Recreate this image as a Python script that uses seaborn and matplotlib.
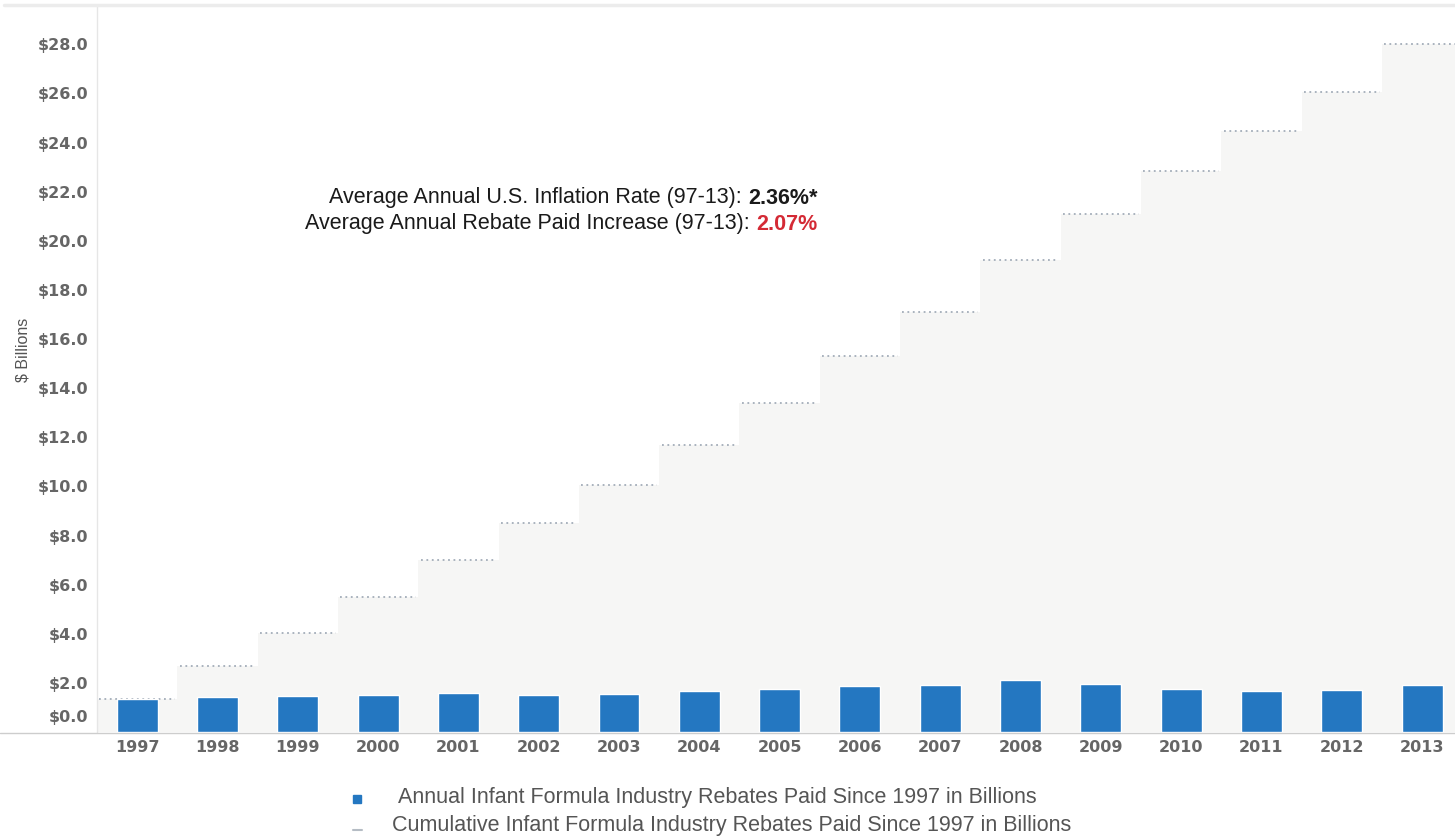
import numpy as np
import pandas as pd
import matplotlib.pyplot as plt
import seaborn as sns
from matplotlib.lines import Line2D
from matplotlib.patches import Rectangle

# data
years = [str(y) for y in range(1997, 2014)]
annual = [1.34, 1.42, 1.46, 1.50, 1.58, 1.50, 1.55, 1.65, 1.74, 1.86, 1.90, 2.10, 1.95, 1.74, 1.65, 1.70, 1.90]
cumulative = [1.34, 2.70, 4.05, 5.50, 7.00, 8.50, 10.05, 11.70, 13.40, 15.30, 17.10,
              19.20, 21.10, 22.85, 24.45, 26.05, 28.00]
y_ticks = list(range(0, 29, 2))
y_tick_labels = [f"${v:.1f}" for v in y_ticks]

annual_label = "Annual Infant Formula Industry Rebates Paid Since 1997 in Billions"
cumul_label = "Cumulative Infant Formula Industry Rebates Paid Since 1997 in Billions"

BAR_BLUE = "#2477c1"
FILL_GRAY = "#f6f6f5"
DOT_GRAY = "#a3adb9"
TICK_GRAY = "#666666"

W, H = 1455, 839


def fx(px):
    return px / W


def fy(py):
    return 1 - py / H


sns.set_theme(style="white")
plt.rcParams['font.family'] = ['Liberation Sans', 'DejaVu Sans']

df = pd.DataFrame({'year': years, 'annual': annual, 'cumulative': cumulative})

fig = plt.figure(figsize=(W / 100, H / 100), dpi=100)
ax = fig.add_axes([fx(97), fy(732), fx(W) - fx(97), fy(5) - fy(732)])

# cumulative steps: light fill with dotted top edges
pos = np.arange(len(years))
ax.stairs(df['cumulative'], edges=np.append(pos - 0.5, pos[-1] + 0.5),
          fill=True, color=FILL_GRAY, zorder=1)
ax.hlines(df['cumulative'], pos - 0.47, pos + 0.47, colors=DOT_GRAY,
          linestyles=(0, (1, 2)), linewidth=1.3, zorder=2)

# annual bars
sns.barplot(data=df, x='year', y='annual', color=BAR_BLUE, saturation=1,
            width=0.51, ax=ax, zorder=3)

ax.set_xlim(-0.5, 16.41)
ax.set_ylim(0, 29.6)
ax.set_yticks(y_ticks)
ax.set_yticklabels([""] + y_tick_labels[1:])
ax.set_xlabel("")
ax.set_ylabel("")
ax.tick_params(axis='both', length=0, labelcolor=TICK_GRAY)
ax.tick_params(axis='y', pad=6)
ax.tick_params(axis='x', pad=6)
for lab in ax.get_xticklabels() + ax.get_yticklabels():
    lab.set_fontfamily('DejaVu Sans')
    lab.set_fontweight('bold')
    lab.set_fontsize(11.5)

# the zero label sits above the base line, as in the reference
ax.annotate(y_tick_labels[0], xy=(0, 0), xycoords=('axes fraction', 'data'),
            xytext=(-6, 5), textcoords='offset points', ha='right', va='bottom',
            fontfamily='DejaVu Sans', fontweight='bold', fontsize=11.5, color=TICK_GRAY)

for s in ['top', 'right', 'bottom']:
    ax.spines[s].set_visible(False)
ax.spines['left'].set_color('#e6e6e6')
ax.spines['left'].set_linewidth(1.0)

# header line and base line across the figure
fig.add_artist(Line2D([0.003, 1], [fy(5), fy(5)], transform=fig.transFigure,
                      color='#ececec', linewidth=2.5))
fig.add_artist(Line2D([0, 1], [fy(733), fy(733)], transform=fig.transFigure,
                      color='#cdcdcd', linewidth=1.0))

fig.text(fx(23), fy(350), "$ Billions", rotation=90, ha='center', va='center',
         fontsize=11.5, color='#555555')

# annotation
fs = 15.5
fig.text(fx(748), fy(198), "Average Annual U.S. Inflation Rate (97-13): ", ha='right', va='center',
         fontsize=fs, color='#1a1a1a')
fig.text(fx(748), fy(198), "2.36%*", ha='left', va='center', fontsize=fs,
         fontweight='bold', color='#1a1a1a')
fig.text(fx(756), fy(224), "Average Annual Rebate Paid Increase (97-13): ", ha='right', va='center',
         fontsize=fs, color='#1a1a1a')
fig.text(fx(756), fy(224), "2.07%", ha='left', va='center', fontsize=fs,
         fontweight='bold', color='#d42a35')

# legend
fig.add_artist(Rectangle((fx(353), fy(803)), fx(8), 8 / H, transform=fig.transFigure,
                         color=BAR_BLUE))
fig.add_artist(Line2D([fx(353), fx(362)], [fy(830), fy(830)], transform=fig.transFigure,
                      color='#b5bcc4', linewidth=1.5))
fig.text(fx(398), fy(798), annual_label, ha='left', va='center', fontsize=15.5, color='#555555')
fig.text(fx(392), fy(825), cumul_label, ha='left', va='center', fontsize=15.5, color='#555555')

fig.savefig("out.png", dpi=100)
